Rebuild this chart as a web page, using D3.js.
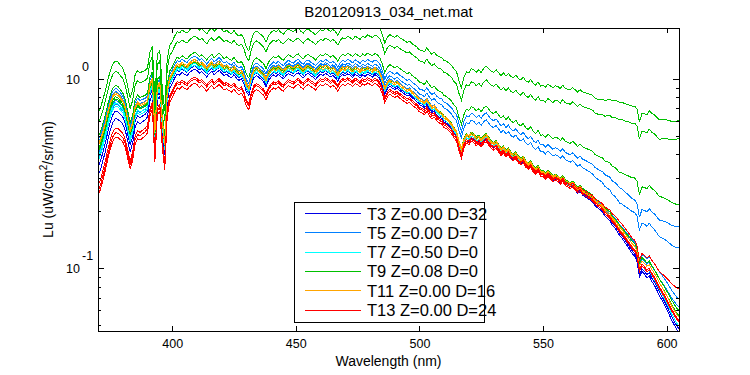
<!DOCTYPE html>
<html>
<head>
<meta charset="utf-8">
<script src="https://cdn.jsdelivr.net/npm/d3@7"></script>
<style>
  body { margin: 0; background: #fff; }
  text { font-family: "Liberation Sans", Arial, sans-serif; fill: #000; }
</style>
</head>
<body>
<div id="chart"></div>
<script>
// spectra: a common shape (1 nm steps, 370-605 nm)
var wavelengths = d3.range(370, 606);
var shape = [
  0.44, 0.47, 0.52, 0.58, 0.66, 0.74, 0.80, 0.83, 0.82, 0.79,
  0.76, 0.70, 0.61, 0.53, 0.58, 0.70, 0.74, 0.72, 0.73, 0.74,
  0.76, 0.92, 0.99, 0.52, 0.90, 0.94, 0.60, 0.45, 0.85, 1.00,
  1.05, 1.12, 1.18, 1.16, 1.20, 1.17, 1.15, 1.19, 1.22, 1.24,
  1.22, 1.18, 1.20, 1.16, 1.12, 1.17, 1.20, 1.15, 1.18, 1.21,
  1.17, 1.13, 1.15, 1.12, 1.10, 1.14, 1.09, 1.06, 1.08, 1.02,
  0.92, 0.88, 1.00, 1.09, 1.12, 1.10, 1.07, 1.04, 0.98, 1.06,
  1.10, 1.13, 1.11, 1.14, 1.10, 1.08, 1.12, 1.15, 1.13, 1.11,
  1.14, 1.16, 1.12, 1.09, 1.13, 1.15, 1.12, 1.10, 1.07, 1.11,
  1.14, 1.12, 1.15, 1.13, 1.10, 1.12, 1.09, 1.04, 1.10, 1.13,
  1.11, 1.14, 1.12, 1.09, 1.13, 1.11, 1.08, 1.12, 1.10, 1.13,
  1.11, 1.09, 1.12, 1.10, 1.06, 0.98, 0.88, 0.94, 0.97, 0.95,
  0.93, 0.95, 0.92, 0.90, 0.88, 0.86, 0.87, 0.84, 0.82, 0.80,
  0.77, 0.76, 0.74, 0.77, 0.73, 0.70, 0.71, 0.68, 0.66, 0.65,
  0.62, 0.61, 0.59, 0.57, 0.54, 0.52, 0.46, 0.42, 0.47, 0.50,
  0.49, 0.51, 0.50, 0.48, 0.49, 0.47, 0.49, 0.50, 0.48, 0.46,
  0.45, 0.46, 0.44, 0.42, 0.43, 0.41, 0.42, 0.40, 0.39, 0.40,
  0.38, 0.37, 0.38, 0.36, 0.35, 0.36, 0.34, 0.33, 0.34, 0.32,
  0.32, 0.31, 0.32, 0.31, 0.30, 0.305, 0.30, 0.29, 0.30, 0.285,
  0.28, 0.275, 0.28, 0.27, 0.26, 0.265, 0.255, 0.25, 0.245, 0.24,
  0.235, 0.225, 0.22, 0.215, 0.21, 0.20, 0.195, 0.19, 0.18, 0.175,
  0.168, 0.16, 0.155, 0.148, 0.142, 0.136, 0.13, 0.126, 0.118, 0.098,
  0.105, 0.102, 0.098, 0.10, 0.094, 0.09, 0.085, 0.08, 0.076, 0.072,
  0.068, 0.064, 0.06, 0.057, 0.054, 0.052
];

// each cast = shape times a ratio read at these wavelengths
var knotW = [370, 400, 430, 460, 500, 525, 540, 560, 573, 581, 588, 597, 605];

var seriesNames = ["T3 Z=0.00 D=32", "T5 Z=0.00 D=7", "T7 Z=0.50 D=0",
  "T9 Z=0.08 D=0", "T11 Z=0.00 D=16", "T13 Z=0.00 D=24"];
var seriesColors = ["#0000e6", "#0080ff", "#00ffff", "#00c000", "#ffa500", "#ff0000"];

// series index + ratios, in plotting order
var casts = [
  { s: 0, r: [0.70, 0.90, 0.93, 0.93, 0.95, 0.96, 0.96, 0.96, 0.95, 0.93, 0.92, 0.90, 0.88] },
  { s: 0, r: [0.78, 0.94, 0.96, 0.96, 0.97, 0.98, 0.98, 0.98, 0.97, 0.96, 0.95, 0.94, 0.92] },
  { s: 1, r: [1.04, 1.02, 1.04, 1.06, 1.08, 1.21, 1.27, 1.32, 1.35, 1.38, 1.60, 1.84, 2.46] },
  { s: 1, r: [1.08, 1.06, 1.08, 1.10, 1.15, 1.32, 1.37, 1.44, 1.53, 1.66, 1.86, 2.25, 3.20] },
  { s: 1, r: [0.90, 1.02, 1.04, 1.04, 1.03, 1.02, 1.02, 1.02, 1.03, 1.06, 1.10, 1.20, 1.32] },
  { s: 1, r: [0.86, 0.98, 1.00, 1.00, 1.00, 1.00, 1.00, 1.00, 1.01, 1.03, 1.05, 1.10, 1.20] },
  { s: 2, r: [0.84, 0.95, 0.97, 0.97, 0.98, 0.98, 0.99, 0.99, 0.99, 0.99, 0.98, 0.97, 0.95] },
  { s: 2, r: [0.88, 0.97, 0.99, 0.99, 1.00, 1.00, 1.00, 1.00, 1.00, 1.00, 1.00, 1.00, 1.00] },
  { s: 3, r: [1.50, 1.50, 1.60, 1.60, 1.85, 2.30, 2.65, 3.15, 3.60, 4.70, 5.90, 7.60, 11.7] },
  { s: 3, r: [1.32, 1.33, 1.42, 1.42, 1.62, 1.95, 2.20, 2.65, 3.00, 3.80, 4.80, 6.00, 9.40] },
  { s: 3, r: [1.12, 1.10, 1.15, 1.18, 1.25, 1.43, 1.52, 1.65, 1.80, 2.00, 2.45, 3.00, 4.20] },
  { s: 3, r: [0.96, 1.00, 1.01, 1.02, 1.02, 1.03, 1.03, 1.03, 1.04, 1.05, 1.08, 1.10, 1.15] },
  { s: 3, r: [0.93, 0.99, 1.00, 1.00, 1.00, 1.01, 1.01, 1.01, 1.02, 1.03, 1.04, 1.05, 1.08] },
  { s: 4, r: [1.00, 1.00, 1.00, 1.00, 1.00, 1.00, 1.00, 1.00, 1.00, 1.00, 1.00, 1.00, 1.00] },
  { s: 4, r: [1.02, 1.02, 1.03, 1.03, 1.02, 1.02, 1.02, 1.02, 1.02, 1.03, 1.04, 1.05, 1.06] },
  { s: 5, r: [0.55, 0.76, 0.78, 0.82, 0.87, 0.93, 0.95, 0.96, 0.97, 0.97, 0.98, 0.98, 1.00] },
  { s: 5, r: [0.58, 0.80, 0.82, 0.86, 0.90, 0.95, 0.97, 0.98, 0.99, 0.99, 1.00, 1.00, 1.02] },
  { s: 5, r: [0.62, 0.82, 0.84, 0.88, 0.92, 0.97, 0.98, 1.00, 1.04, 1.10, 1.12, 1.20, 1.50] }
];

var xTicks = [400, 450, 500, 550, 600];
var yMajor = [0.1, 1];
var yMinor = [0.05, 0.06, 0.07, 0.08, 0.09, 0.2, 0.3, 0.4, 0.5, 0.6, 0.7, 0.8, 0.9];

// layout
var W = 750, H = 375;
var margin = { top: 28, right: 71, bottom: 44, left: 98 };
var width = W - margin.left - margin.right,
  height = H - margin.top - margin.bottom;

var svg = d3.select("#chart").append("svg")
  .attr("width", W).attr("height", H);

var g = svg.append("g")
  .attr("transform", "translate(" + margin.left + "," + margin.top + ")");

var x = d3.scaleLinear().domain([370, 605]).range([0, width]);
var y = d3.scaleLog().domain([0.0466, 1.86]).range([height, 0]);

// lines
var line = d3.line()
  .x(function (d) { return x(d[0]); })
  .y(function (d) { return y(d[1]); });

g.append("defs").append("clipPath").attr("id", "clip")
  .append("rect").attr("width", width).attr("height", height);

var plot = g.append("g").attr("clip-path", "url(#clip)");

casts.forEach(function (c) {
  var ratio = d3.scaleLinear().domain(knotW).range(c.r.map(Math.log));
  var pts = wavelengths.map(function (w, i) {
    return [w, shape[i] * Math.exp(ratio(w))];
  });
  plot.append("path")
    .datum(pts)
    .attr("fill", "none")
    .attr("stroke", seriesColors[c.s])
    .attr("stroke-width", 1)
    .attr("shape-rendering", "crispEdges")
    .attr("d", line);
});

// axes box
function axisStyle(sel) {
  sel.select(".domain").remove();
  sel.selectAll("line").attr("stroke", "#000").attr("shape-rendering", "crispEdges");
  sel.selectAll("text").attr("font-size", "12.5px").attr("fill", "#000");
}

g.append("g").attr("transform", "translate(0," + height + ")")
  .call(d3.axisBottom(x).tickValues(xTicks).tickSize(-5).tickPadding(8).tickFormat(d3.format("d")))
  .call(axisStyle);
g.append("g")
  .call(d3.axisTop(x).tickValues(xTicks).tickSize(-5).tickFormat(""))
  .call(axisStyle);

// y major and minor ticks (left + right)
g.append("g")
  .call(d3.axisLeft(y).tickValues(yMajor).tickSize(-6).tickFormat(""))
  .call(axisStyle);
g.append("g")
  .call(d3.axisLeft(y).tickValues(yMinor).tickSize(-3).tickFormat(""))
  .call(axisStyle);
g.append("g").attr("transform", "translate(" + width + ",0)")
  .call(d3.axisRight(y).tickValues(yMajor).tickSize(-6).tickFormat(""))
  .call(axisStyle);
g.append("g").attr("transform", "translate(" + width + ",0)")
  .call(d3.axisRight(y).tickValues(yMinor).tickSize(-3).tickFormat(""))
  .call(axisStyle);

// y tick labels as 10^n
var ylab = g.append("g").selectAll("g").data(yMajor).enter().append("g");
ylab.append("text")
  .attr("x", -18)
  .attr("y", function (d) { return y(d) + 4.5; })
  .attr("text-anchor", "end")
  .attr("font-size", "12.5px")
  .text("10");
ylab.append("text")
  .attr("x", -16)
  .attr("y", function (d) { return y(d) - 8.5; })
  .attr("font-size", "12.5px")
  .text(function (d) { return Math.round(Math.log10(d)); });

g.append("rect")
  .attr("width", width).attr("height", height)
  .attr("fill", "none").attr("stroke", "#000")
  .attr("shape-rendering", "crispEdges");

// titles
svg.append("text")
  .attr("x", margin.left + width / 2).attr("y", 17)
  .attr("text-anchor", "middle").attr("font-size", "15px")
  .text("B20120913_034_net.mat");

svg.append("text")
  .attr("x", margin.left + width / 2).attr("y", 366)
  .attr("text-anchor", "middle").attr("font-size", "14px")
  .text("Wavelength (nm)");

var yl = svg.append("text")
  .attr("transform", "translate(53," + (margin.top + height / 2) + ") rotate(-90)")
  .attr("text-anchor", "middle").attr("font-size", "14px");
yl.append("tspan").text("Lu (uW/cm");
yl.append("tspan").attr("dy", -6).attr("font-size", "10px").text("2");
yl.append("tspan").attr("dy", 6).text("/sr/nm)");

// legend
var leg = svg.append("g").attr("transform", "translate(294,202)");
leg.append("rect")
  .attr("width", 190).attr("height", 120)
  .attr("fill", "#fff").attr("stroke", "#000")
  .attr("shape-rendering", "crispEdges");
var item = leg.selectAll("g.item").data(seriesNames).enter().append("g")
  .attr("transform", function (d, i) { return "translate(0," + (11.5 + i * 19.3) + ")"; });
item.append("line")
  .attr("x1", 11).attr("x2", 67)
  .attr("stroke", function (d, i) { return seriesColors[i]; })
  .attr("shape-rendering", "crispEdges");
item.append("text")
  .attr("x", 73).attr("y", 6)
  .attr("font-size", "16.5px")
  .text(function (d) { return d; });
</script>
</body>
</html>
